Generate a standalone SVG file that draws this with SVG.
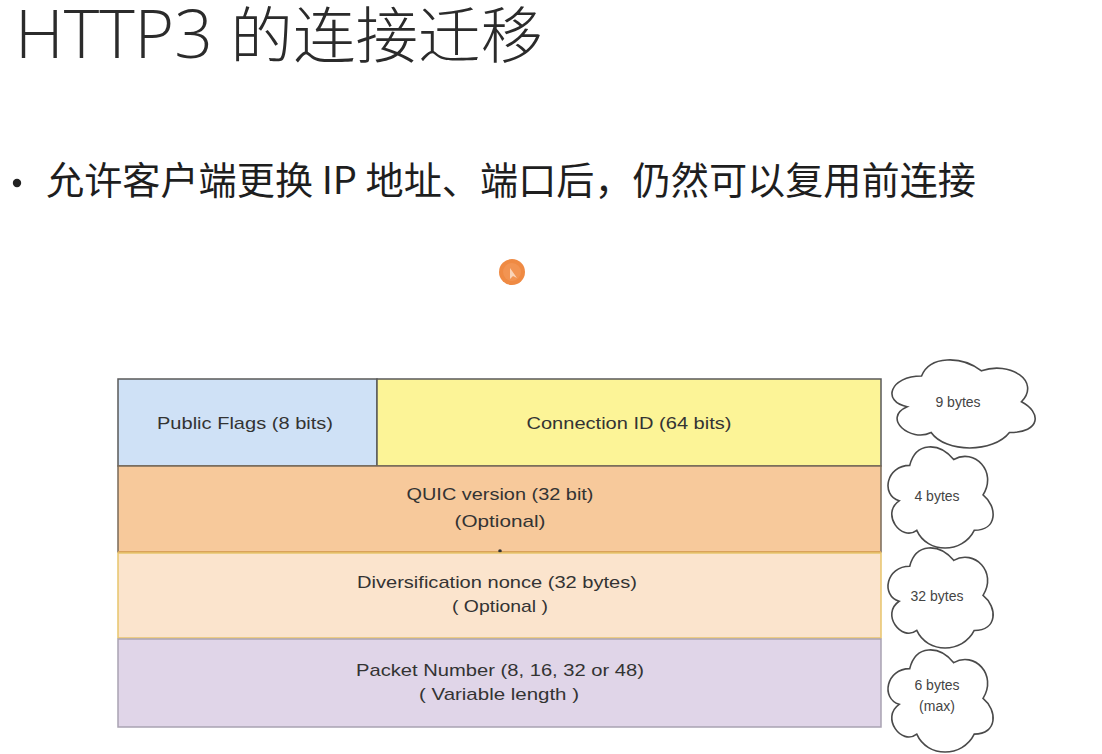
<svg xmlns="http://www.w3.org/2000/svg" xmlns:xlink="http://www.w3.org/1999/xlink" width="1102" height="754" viewBox="0 0 1102 754">
  <style>
    .title { font-family: "Open Sans", "Noto Sans CJK SC", sans-serif; font-weight: 300; font-size: 66px; fill: #2b2b2b; }
    .title .cjk { font-size: 61px; }
    .bullet { font-family: "Noto Sans CJK SC", sans-serif; font-size: 38px; fill: #1e1e1e; }
    .field { font-family: "Liberation Sans", Arial, sans-serif; font-size: 17px; fill: #333333; text-anchor: middle; }
    .size { font-family: "Liberation Sans", Arial, sans-serif; font-size: 14px; fill: #444; text-anchor: middle; }
    .cloud { fill: #ffffff; stroke: #4a4a4a; stroke-width: 1.6; }
  </style>
  <defs>
    <!-- cloud outline in a 100x100 unit box -->
    <path id="cloud" vector-effect="non-scaling-stroke" d="M25,25 C5,25 0,50 16,55 C0,66 18,90 31,80 C40,100 70,100 80,80 C100,80 100,60 87.5,50 C100,30 80,10 62.5,20 C50,5 30,5 25,25 Z"/>
  </defs>

  <rect width="1102" height="754" fill="#ffffff"/>

  <!-- heading -->
  <text class="title" x="15" y="58" textLength="528" lengthAdjust="spacingAndGlyphs">HTTP3 <tspan class="cjk">的连接迁移</tspan></text>

  <!-- bullet point -->
  <circle cx="17" cy="183" r="4.2" fill="#222"/>
  <text class="bullet" x="46" y="194" textLength="930" lengthAdjust="spacingAndGlyphs">允许客户端更换 IP 地址、端口后，仍然可以复用前连接</text>

  <!-- pointer highlight -->
  <g id="pointer">
    <circle cx="512" cy="272" r="13" fill="#ef8a43"/>
    <circle cx="512" cy="272" r="9" fill="#f29452"/>
    <path d="M510,268 L510,279 L513,276 L517,278 Z" fill="#fbe3d2" opacity="0.8"/>
  </g>

  <!-- packet header fields -->
  <g id="public-flags">
    <rect x="118" y="379" width="259" height="87" fill="#cfe1f6" stroke="#5a5a5a" stroke-width="1.5"/>
    <text class="field" x="245" y="429" textLength="176" lengthAdjust="spacingAndGlyphs">Public Flags (8 bits)</text>
  </g>
  <g id="connection-id">
    <rect x="377" y="379" width="504" height="87" fill="#fcf497" stroke="#5a5a5a" stroke-width="1.5"/>
    <text class="field" x="629" y="429" textLength="205" lengthAdjust="spacingAndGlyphs">Connection ID (64 bits)</text>
  </g>
  <g id="quic-version">
    <rect x="118" y="466" width="763" height="86" fill="#f7c99b" stroke="#7a6a58" stroke-width="1.5"/>
    <line x1="118" y1="552" x2="881" y2="552" stroke="#d9a25a" stroke-width="2"/>
    <text class="field" x="500" y="500" textLength="187" lengthAdjust="spacingAndGlyphs">QUIC version (32 bit)</text>
    <text class="field" x="500" y="527" textLength="91" lengthAdjust="spacingAndGlyphs">(Optional)</text>
    <circle cx="500" cy="551" r="1.8" fill="#333"/>
  </g>
  <g id="diversification-nonce">
    <rect x="118" y="553" width="763" height="85" fill="#fbe4cd" stroke="#e8c56c" stroke-width="1.5"/>
    <text class="field" x="497" y="588" textLength="280" lengthAdjust="spacingAndGlyphs">Diversification nonce (32 bytes)</text>
    <text class="field" x="500" y="612" textLength="96" lengthAdjust="spacingAndGlyphs">( Optional )</text>
  </g>
  <g id="packet-number">
    <rect x="118" y="639" width="763" height="88" fill="#e0d5e8" stroke="#a9a2b2" stroke-width="1.5"/>
    <text class="field" x="500" y="676" textLength="288" lengthAdjust="spacingAndGlyphs">Packet Number (8, 16, 32 or 48)</text>
    <text class="field" x="499" y="700" textLength="160" lengthAdjust="spacingAndGlyphs">( Variable length )</text>
  </g>

  <!-- size annotations -->
  <g id="size-9">
    <use href="#cloud" class="cloud" transform="translate(881.6,350.3) scale(1.598,1.028)"/>
    <text class="size" x="958" y="407">9 bytes</text>
  </g>
  <g id="size-4">
    <use href="#cloud" class="cloud" transform="translate(880.4,435.9) scale(1.173,1.18)"/>
    <text class="size" x="937" y="501">4 bytes</text>
  </g>
  <g id="size-32">
    <use href="#cloud" class="cloud" transform="translate(880.4,537) scale(1.173,1.168)"/>
    <text class="size" x="937" y="601">32 bytes</text>
  </g>
  <g id="size-6">
    <use href="#cloud" class="cloud" transform="translate(880.4,638.8) scale(1.173,1.192)"/>
    <text class="size" x="937" y="690">6 bytes</text>
    <text class="size" x="937" y="711">(max)</text>
  </g>

  <!-- no connectors in this figure -->
  <g id="connectors"/>
</svg>
